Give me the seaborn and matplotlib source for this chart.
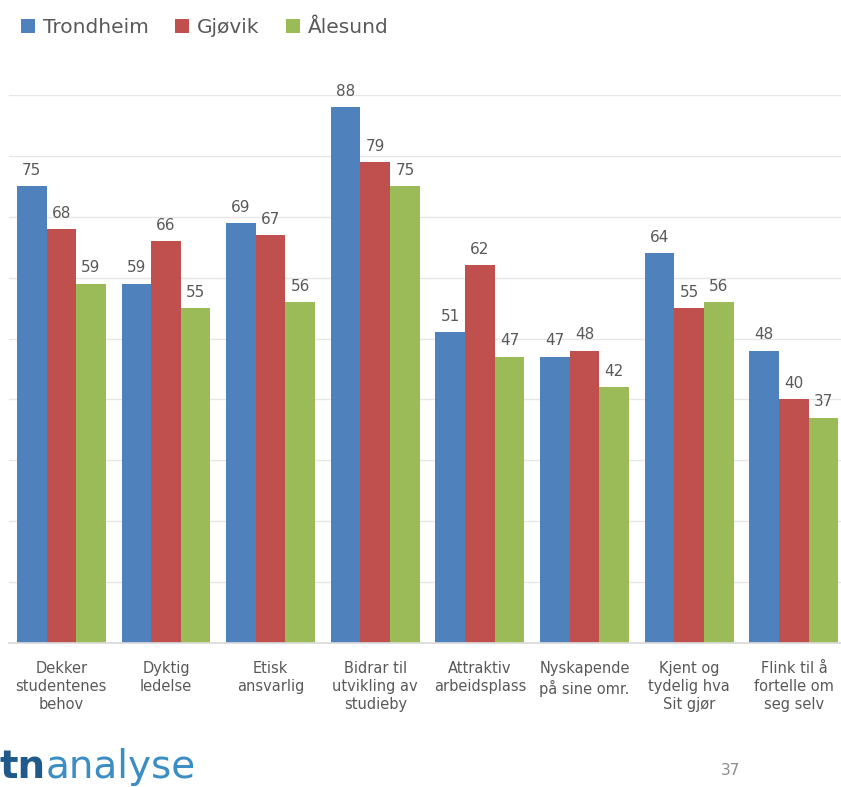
import pandas as pd
import seaborn as sns
import matplotlib.pyplot as plt

# --- Datos ---
CATEGORIES = [
    "Dekker\nstudentenes\nbehov",
    "Dyktig\nledelse",
    "Etisk\nansvarlig",
    "Bidrar til\nutvikling av\nstudieby",
    "Attraktiv\narbeidsplass",
    "Nyskapende\npå sine omr.",
    "Kjent og\ntydelig hva\nSit gjør",
    "Flink til å\nfortelle om\nseg selv",
]
SERIES = ["Trondheim", "Gjøvik", "Ålesund"]
TRONDHEIM = [75, 59, 69, 88, 51, 47, 64, 48]
GJOVIK = [68, 66, 67, 79, 62, 48, 55, 40]
ALESUND = [59, 55, 56, 75, 47, 42, 56, 37]

COLORS = ["#4F81BD", "#C0504D", "#9BBB59"]
GREY = "#595959"

rows = []
for name, vals in zip(SERIES, [TRONDHEIM, GJOVIK, ALESUND]):
    for cat, v in zip(CATEGORIES, vals):
        rows.append({"kategori": cat, "by": name, "verdi": v})
df = pd.DataFrame(rows)

sns.set_theme(style="white")
plt.rcParams["font.family"] = ["DejaVu Sans"]

fig = plt.figure(figsize=(8.41, 7.87), dpi=100)
ax = fig.add_axes([9 / 841, (787 - 643) / 787, 832 / 841, (643 - 95) / 787])

sns.barplot(data=df, x="kategori", y="verdi", hue="by", palette=COLORS,
            width=0.85, gap=0, saturation=1, linewidth=0, ax=ax, legend=True)

for cont in ax.containers:
    ax.bar_label(cont, padding=6, fontsize=11, color=GREY)

ax.set_ylim(0, 90)
ax.set_xlim(-0.5, 7.45)
ax.set_yticks(range(0, 91, 10))
ax.yaxis.grid(True, color="#e6e6e6", linewidth=1)
ax.set_axisbelow(True)
ax.tick_params(axis="y", left=False, labelleft=False)
ax.tick_params(axis="x", bottom=False, labelsize=10.5, labelcolor=GREY, pad=7)
for lbl in ax.get_xticklabels():
    lbl.set_linespacing(1.25)
ax.set_xlabel("")
ax.set_ylabel("")
for s in ["top", "right", "left"]:
    ax.spines[s].set_visible(False)
ax.spines["bottom"].set_color("#d9d9d9")

ax.legend(loc="upper left", bbox_to_anchor=(0.008, 0.0, 1, 0.995),
          bbox_transform=fig.transFigure, ncol=3, frameon=False,
          fontsize=14.5, labelcolor=GREY, handlelength=0.7, handleheight=0.7,
          handletextpad=0.4, columnspacing=1.3, borderaxespad=0.3)

# Logo og sidetall
tn = fig.text(0.0, 0.012, "tn", fontsize=28, fontweight="bold", color="#1F5A8A")
fig.text(0, 0, "")
ax.annotate("analyse", xy=(1, 0), xycoords=tn, fontsize=28, color="#3C8DC4",
            va="bottom", ha="left", annotation_clip=False)
fig.text(0.857, 0.015, "37", fontsize=11, color="#8c8c8c")

fig.savefig("out.png", dpi=100)
